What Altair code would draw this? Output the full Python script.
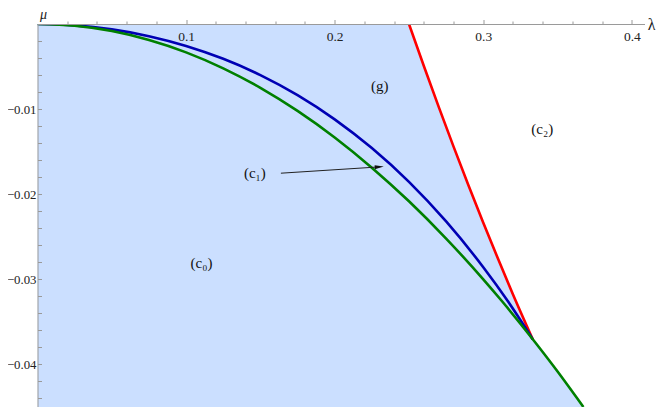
import altair as alt
import pandas as pd

# ---------------- data ----------------
green_lam = [0.0, 0.025, 0.05, 0.075, 0.1, 0.125, 0.15, 0.175, 0.2, 0.225, 0.25,
             0.275, 0.3, 0.3125, 0.3333, 0.35, 0.3674]
green_mu = [0.0, -0.00021, -0.00083, -0.00188, -0.00333, -0.00521, -0.0075, -0.01021,
            -0.01333, -0.01688, -0.02083, -0.02521, -0.03, -0.03255, -0.03704, -0.04083, -0.045]

blue_lam = [0.0, 0.025, 0.05, 0.075, 0.1, 0.125, 0.15, 0.175, 0.2, 0.225, 0.25, 0.275,
            0.3, 0.3167, 0.3333]
blue_mu = [0.0, -0.00016, -0.00063, -0.00143, -0.00258, -0.00409, -0.006, -0.00836,
           -0.0112, -0.01458, -0.01855, -0.0232, -0.02858, -0.03261, -0.03704]

red_lam = [0.25, 0.26, 0.27, 0.28, 0.29, 0.30, 0.31, 0.32, 0.3333]
red_mu = [0.0, -0.00493, -0.00974, -0.01441, -0.01894, -0.02335, -0.02762, -0.03177, -0.03704]

# shaded region: upper boundary (top axis, red line, then green curve)
region_lam = [0.0] + red_lam + [0.35, 0.3674]
region_mu = [0.0] + red_mu + [-0.04083, -0.045]

label_text = ["(c\u2080)", "(c\u2081)", "(c\u2082)", "(g)"]
label_lam = [0.1104, 0.1463, 0.3397, 0.2303]
label_mu = [-0.02809, -0.01753, -0.01236, -0.00728]

arrow_lam = [0.1638, 0.2300]
arrow_mu = [-0.01753, -0.01679]
arrow_head_lam = [0.2300]
arrow_head_mu = [-0.01679]

x_major = [0.1, 0.2, 0.3, 0.4]
x_minor = [0.02, 0.04, 0.06, 0.08, 0.12, 0.14, 0.16, 0.18, 0.22, 0.24, 0.26, 0.28,
           0.32, 0.34, 0.36, 0.38]
y_major = [-0.01, -0.02, -0.03, -0.04]
y_ticks = [-0.002, -0.004, -0.006, -0.008, -0.01, -0.012, -0.014, -0.016, -0.018, -0.02,
           -0.022, -0.024, -0.026, -0.028, -0.03, -0.032, -0.034, -0.036, -0.038, -0.04,
           -0.042, -0.044]

# ---------------- styling ----------------
SERIF = "Liberation Serif"
AX = "#9a9a9a"
FILL = "#cbdfff"
W, H = 607, 383

xs = alt.Scale(domain=[0, 0.4085], nice=False, zero=False)
ys = alt.Scale(domain=[-0.045, 0], nice=False, zero=False)

region_df = pd.DataFrame({"lam": region_lam, "mu": region_mu})
green_df = pd.DataFrame({"lam": green_lam, "mu": green_mu})
blue_df = pd.DataFrame({"lam": blue_lam, "mu": blue_mu})
red_df = pd.DataFrame({"lam": red_lam, "mu": red_mu})
label_df = pd.DataFrame({"lam": label_lam, "mu": label_mu, "t": label_text})
arrow_df = pd.DataFrame({"lam": arrow_lam, "mu": arrow_mu})
head_df = pd.DataFrame({"lam": arrow_head_lam, "mu": arrow_head_mu})

x_main_axis = alt.Axis(
    orient="top", values=x_major, tickSize=4.5, tickColor=AX, domainColor=AX,
    labelPadding=-9.5, labelBaseline="top", labelAlign="center", format=".1f",
    labelFont=SERIF, labelFontSize=13.5, labelColor="#222", labelFlush=False,
    labelOverlap=False, grid=False, zindex=1,
    title="λ", titleX=613.5, titleY=0, titleAngle=0, titleAlign="center",
    titleBaseline="middle", titleFont=SERIF, titleFontSize=16,
    titleFontWeight="normal", titleColor="#222",
)
y_main_axis = alt.Axis(
    orient="left", values=y_major, ticks=False, tickSize=0, domainColor=AX,
    labelPadding=1.5, labelExpr="'\u2212' + format(-datum.value, '.2f')",
    labelFont=SERIF, labelFontSize=12.8, labelColor="#222", labelFlush=False,
    labelOverlap=False, grid=False, minExtent=0, zindex=1,
    title="μ", titleX=5.5, titleY=-9.5, titleAngle=0, titleAlign="center",
    titleBaseline="middle", titleFont=SERIF, titleFontSize=14,
    titleFontStyle="italic", titleFontWeight="normal", titleColor="#222",
)
x_minor_axis = alt.Axis(
    orient="top", values=x_minor, tickSize=3, tickColor=AX, domain=False,
    labels=False, grid=False, title=None, zindex=1,
)
y_minor_axis = alt.Axis(
    orient="left", values=y_ticks, tickSize=4, tickColor=AX, domain=False,
    labels=False, grid=False, title=None, offset=-4, minExtent=0, zindex=1,
)

region = alt.Chart(region_df).mark_area(color=FILL, clip=True).encode(
    x=alt.X("lam:Q", scale=xs, axis=x_main_axis),
    y=alt.Y("mu:Q", scale=ys, axis=y_main_axis),
    y2=alt.datum(-0.045),
)

red = alt.Chart(red_df).mark_line(color="#ff0000", strokeWidth=2.6, interpolate="monotone",
                                  clip=True).encode(
    x=alt.X("lam:Q", scale=xs, axis=x_minor_axis),
    y=alt.Y("mu:Q", scale=ys, axis=y_minor_axis),
)
blue = alt.Chart(blue_df).mark_line(color="#0000b4", strokeWidth=2.6, interpolate="monotone",
                                    clip=True).encode(
    x=alt.X("lam:Q", scale=xs, axis=None),
    y=alt.Y("mu:Q", scale=ys, axis=None),
)
green = alt.Chart(green_df).mark_line(color="#008000", strokeWidth=2.6, interpolate="monotone",
                                      clip=True).encode(
    x=alt.X("lam:Q", scale=xs, axis=None),
    y=alt.Y("mu:Q", scale=ys, axis=None),
)
arrow = alt.Chart(arrow_df).mark_line(color="#222", strokeWidth=1).encode(
    x=alt.X("lam:Q", scale=xs, axis=None),
    y=alt.Y("mu:Q", scale=ys, axis=None),
)
head = alt.Chart(head_df).mark_point(
    shape="M-1,-0.45L1,0L-1,0.45Z", filled=True, size=81, angle=356, color="#111", opacity=1
).encode(
    x=alt.X("lam:Q", scale=xs, axis=None),
    y=alt.Y("mu:Q", scale=ys, axis=None),
)
labels = alt.Chart(label_df).mark_text(font=SERIF, fontSize=15, color="#111").encode(
    x=alt.X("lam:Q", scale=xs, axis=None),
    y=alt.Y("mu:Q", scale=ys, axis=None),
    text="t:N",
)

chart = (
    alt.layer(region, red, blue, green, arrow, head, labels)
    .resolve_axis(x="independent", y="independent")
    .properties(
        width=W, height=H,
        autosize=alt.AutoSizeParams(type="none"),
        padding={"left": 29.5, "top": 16, "right": 11.5, "bottom": 0},
    )
    .configure_view(stroke=None)
)

chart.save("out.html", embed_options={"renderer": "svg", "actions": False})
